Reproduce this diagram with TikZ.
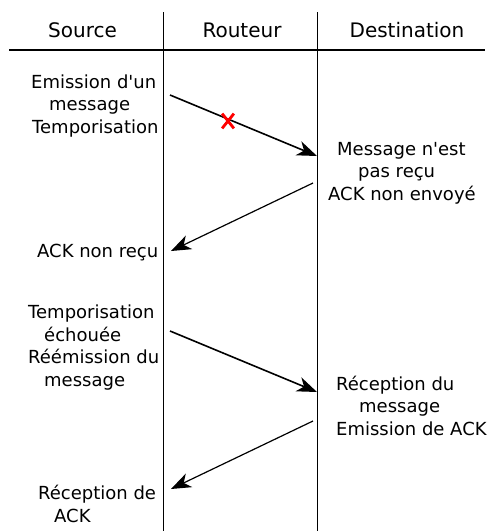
\documentclass[tikz,border=0pt]{standalone}
\usepackage{fontspec}
\setmainfont{DejaVu Sans}
\usetikzlibrary{arrows.meta,shapes.misc}

\begin{document}
\begin{tikzpicture}[x=1pt,y=-1pt,
        titre/.style={inner sep=0pt,anchor=base,font=\fontsize{20}{24}\selectfont},
        txt/.style={inner sep=0pt,anchor=base west,align=left,font=\fontsize{18}{22.5}\selectfont},
        aller/.style={line width=1.6pt,-{Stealth[length=20pt,width=15pt,inset=6pt]}},
        retour/.style={line width=1.2pt,-{Stealth[length=20pt,width=15pt,inset=6pt]}}]
            \useasboundingbox (0,0) rectangle (488,531);
            \node[titre] (source) at (82.5,37) {Source};
            \node[titre] (routeur) at (242,37) {Routeur};
            \node[titre] (destination) at (407,37) {Destination};
            \draw[line width=2pt] (9,50) -- (485,50);
            \foreach \x in {163.5,317.5}
                \draw[line width=1.2pt] (\x,12) -- (\x,531);
            \node[txt] (emission) at (31,133) {Emission d\textquotesingle un\\\hspace*{18pt}message\\\hspace*{1pt}Temporisation};
            \node[txt] (ackperdu) at (37,257) {ACK non reçu};
            \node[txt] (nonrecu) at (328,200) {\hspace*{9pt}Message n\textquotesingle est\\\hspace*{30pt}pas reçu\\ACK non envoyé};
            \node[txt] (relance) at (28,386) {Temporisation\\\hspace*{16pt}échouée\\Réémission du\\\hspace*{16pt}message};
            \node[txt] (reception) at (336,435) {Réception du\\\hspace*{23pt}message\\Emission de ACK};
            \node[txt] (ackrecu) at (38,522) {Réception de\\\hspace*{16pt}ACK};
            \coordinate (m1) at (170,95);
            \coordinate (m2) at (317,156);
            \coordinate (a1) at (313,183);
            \coordinate (a2) at (171,251);
            \coordinate (m3) at (170,331);
            \coordinate (m4) at (317,392);
            \coordinate (a3) at (313,421);
            \coordinate (a4) at (171,489);
            \draw[aller] (m1) -- (m2);
            \node[cross out,draw=red,line width=2.8pt,minimum width=9pt,minimum height=12pt,inner sep=0pt] (perte) at (228,121) {};
            \draw[retour] (a1) -- (a2);
            \draw[aller] (m3) -- (m4);
            \draw[retour] (a3) -- (a4);
        \end{tikzpicture}
\end{document}
